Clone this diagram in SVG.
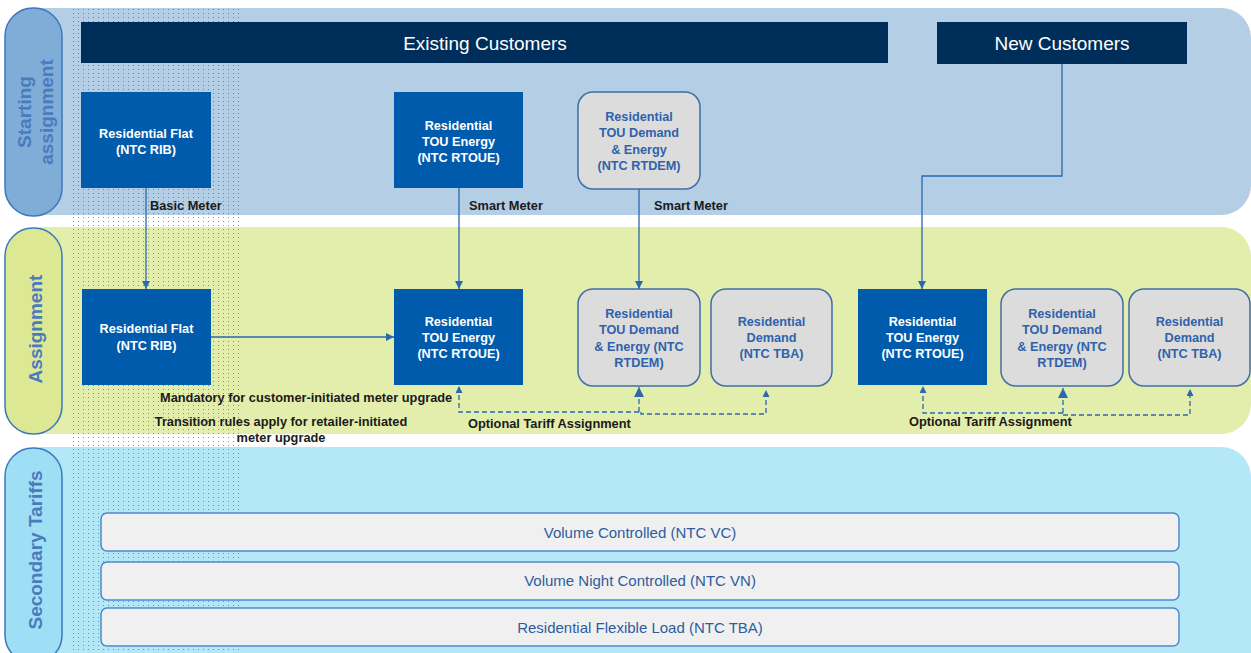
<svg xmlns="http://www.w3.org/2000/svg" width="1251" height="653" viewBox="0 0 1251 653">
<defs>
<pattern id="dots" x="71" y="8" width="5" height="4" patternUnits="userSpaceOnUse">
<rect x="2" y="1" width="1" height="1" fill="#3d5f88" opacity="0.65"/>
</pattern>
<marker id="arr" markerWidth="8" markerHeight="8" refX="8" refY="4" orient="auto" markerUnits="userSpaceOnUse">
<path d="M0,0 L8,4 L0,8 Z" fill="#2a68b0"/>
</marker>
<marker id="arrS" markerWidth="7" markerHeight="8" refX="6" refY="3.5" orient="auto" markerUnits="userSpaceOnUse">
<path d="M0,0 L7,3.5 L0,7 Z" fill="#2a68b0"/>
</marker>
<marker id="arrL" markerWidth="10" markerHeight="10" refX="10" refY="5" orient="auto" markerUnits="userSpaceOnUse">
<path d="M0,0 L10,5 L0,10 Z" fill="#2a68b0"/>
</marker>
</defs>
<style>
.pill{stroke:#3a78bd;stroke-width:1.5}
.pilltxt{font-family:"Liberation Sans",Arial,sans-serif;font-weight:bold;font-size:19px;fill:#4a7bbd;text-anchor:middle}
.hdr{fill:#002e5a}
.hdrtxt{font-family:"Liberation Sans",Arial,sans-serif;font-size:19px;fill:#ffffff;text-anchor:middle}
.blue{fill:#005bac}
.bluetxt{font-family:"Liberation Sans",Arial,sans-serif;font-weight:bold;font-size:12.7px;fill:#ffffff;text-anchor:middle}
.gray{fill:#dcdcdc;stroke:#3f6ea8;stroke-width:1.5}
.graytxt{font-family:"Liberation Sans",Arial,sans-serif;font-weight:bold;font-size:12.7px;fill:#2f62ab;text-anchor:middle}
.bar{fill:#f0f0f0;stroke:#4b8ad0;stroke-width:1.5}
.bartxt{font-family:"Liberation Sans",Arial,sans-serif;font-size:15px;fill:#2d5da0;text-anchor:middle}
.lbl{font-family:"Liberation Sans",Arial,sans-serif;font-weight:bold;font-size:12.8px;fill:#1a1a1a}
.conn{fill:none;stroke:#2a68b0;stroke-width:1.3}
.dash{fill:none;stroke:#2a68b0;stroke-width:1.3;stroke-dasharray:5,3}
</style>

<!-- lanes -->
<g id="lanes">
<path d="M40,8 H1221 A30,30 0 0 1 1251,38 V185 A30,30 0 0 1 1221,215 H40 Z" fill="#b3cee5"/>
<path d="M40,227 H1221 A30,30 0 0 1 1251,257 V404 A30,30 0 0 1 1221,434 H40 Z" fill="#e4eeac"/>
<path d="M40,447 H1221 A30,30 0 0 1 1251,477 V660 H40 Z" fill="#b5e8f6"/>
</g>
<rect id="dotted-area" x="71" y="8" width="168" height="645" fill="url(#dots)"/>

<g id="pill-starting">
<rect class="pill" x="5" y="8" width="57" height="208" rx="28" fill="#80acd8"/>
<text class="pilltxt" transform="translate(31,112) rotate(-90)">Starting</text>
<text class="pilltxt" transform="translate(53,112) rotate(-90)">assignment</text>
</g>
<g id="pill-assignment">
<rect class="pill" x="5" y="228" width="57" height="206" rx="28" fill="#dde895"/>
<text class="pilltxt" transform="translate(42,329) rotate(-90)">Assignment</text>
</g>
<g id="pill-secondary">
<rect class="pill" x="5" y="448" width="57" height="215" rx="28" fill="#9edff5"/>
<text class="pilltxt" transform="translate(42,550) rotate(-90)">Secondary Tariffs</text>
</g>

<g id="hdr-existing">
<rect class="hdr" x="81" y="22" width="807" height="41"/>
<text class="hdrtxt" x="485" y="49.5">Existing Customers</text>
</g>
<g id="hdr-new">
<rect class="hdr" x="937" y="22" width="250" height="42"/>
<text class="hdrtxt" x="1062" y="49.5">New Customers</text>
</g>

<g id="start-rib">
<rect class="blue" x="81" y="92" width="130" height="96"/>
<text class="bluetxt" x="146" y="137.5">Residential Flat</text>
<text class="bluetxt" x="146" y="154">(NTC RIB)</text>
</g>
<g id="start-rtoue">
<rect class="blue" x="394" y="92" width="129" height="96"/>
<text class="bluetxt" x="458.5" y="130">Residential</text>
<text class="bluetxt" x="458.5" y="146">TOU Energy</text>
<text class="bluetxt" x="458.5" y="162">(NTC RTOUE)</text>
</g>
<g id="start-rtdem">
<rect class="gray" x="578" y="92" width="122" height="97" rx="15"/>
<text class="graytxt" x="639" y="120.5">Residential</text>
<text class="graytxt" x="639" y="137">TOU Demand</text>
<text class="graytxt" x="639" y="153.5">&amp; Energy</text>
<text class="graytxt" x="639" y="170">(NTC RTDEM)</text>
</g>

<g id="asg-rib">
<rect class="blue" x="82" y="289" width="129" height="96"/>
<text class="bluetxt" x="146.5" y="333">Residential Flat</text>
<text class="bluetxt" x="146.5" y="350">(NTC RIB)</text>
</g>
<g id="asg-rtoue">
<rect class="blue" x="394" y="289" width="129" height="96"/>
<text class="bluetxt" x="458.5" y="326">Residential</text>
<text class="bluetxt" x="458.5" y="342">TOU Energy</text>
<text class="bluetxt" x="458.5" y="358">(NTC RTOUE)</text>
</g>
<g id="asg-rtdem">
<rect class="gray" x="578" y="289" width="122" height="97" rx="15"/>
<text class="graytxt" x="639" y="317.5">Residential</text>
<text class="graytxt" x="639" y="334">TOU Demand</text>
<text class="graytxt" x="639" y="350.5">&amp; Energy (NTC</text>
<text class="graytxt" x="639" y="367">RTDEM)</text>
</g>
<g id="asg-demand">
<rect class="gray" x="711" y="289" width="121" height="97" rx="15"/>
<text class="graytxt" x="771.5" y="326">Residential</text>
<text class="graytxt" x="771.5" y="342">Demand</text>
<text class="graytxt" x="771.5" y="358">(NTC TBA)</text>
</g>
<g id="new-rtoue">
<rect class="blue" x="858" y="289" width="129" height="96"/>
<text class="bluetxt" x="922.5" y="326">Residential</text>
<text class="bluetxt" x="922.5" y="342">TOU Energy</text>
<text class="bluetxt" x="922.5" y="358">(NTC RTOUE)</text>
</g>
<g id="new-rtdem">
<rect class="gray" x="1001" y="289" width="122" height="97" rx="15"/>
<text class="graytxt" x="1062" y="317.5">Residential</text>
<text class="graytxt" x="1062" y="334">TOU Demand</text>
<text class="graytxt" x="1062" y="350.5">&amp; Energy (NTC</text>
<text class="graytxt" x="1062" y="367">RTDEM)</text>
</g>
<g id="new-demand">
<rect class="gray" x="1129" y="289" width="121" height="97" rx="15"/>
<text class="graytxt" x="1189.5" y="326">Residential</text>
<text class="graytxt" x="1189.5" y="342">Demand</text>
<text class="graytxt" x="1189.5" y="358">(NTC TBA)</text>
</g>

<g id="sec-vc">
<rect class="bar" x="101" y="513" width="1078" height="38" rx="6"/>
<text class="bartxt" x="640" y="537.5">Volume Controlled (NTC VC)</text>
</g>
<g id="sec-vn">
<rect class="bar" x="101" y="562" width="1078" height="38" rx="6"/>
<text class="bartxt" x="640" y="586">Volume Night Controlled (NTC VN)</text>
</g>
<g id="sec-flex">
<rect class="bar" x="101" y="608" width="1078" height="38" rx="6"/>
<text class="bartxt" x="640" y="632.5">Residential Flexible Load (NTC TBA)</text>
</g>

<g id="connectors">
<line class="conn" x1="146" y1="188" x2="146" y2="289" marker-end="url(#arr)"/>
<line class="conn" x1="459" y1="188" x2="459" y2="289" marker-end="url(#arr)"/>
<line class="conn" x1="639" y1="189" x2="639" y2="289" marker-end="url(#arr)"/>
<path class="conn" d="M1062,64 V176 H922 V289" marker-end="url(#arr)"/>
<line class="conn" x1="211" y1="337" x2="394" y2="337" marker-end="url(#arr)"/>

<path class="dash" d="M639,412 H459 V387" marker-end="url(#arrS)"/>
<line class="dash" x1="639" y1="412" x2="639" y2="387" marker-end="url(#arrL)"/>
<path class="dash" d="M641,412 V414 H766 V391" marker-end="url(#arrS)"/>

<path class="dash" d="M1063,413 H923 V387" marker-end="url(#arrS)"/>
<line class="dash" x1="1063" y1="413" x2="1063" y2="388" marker-end="url(#arrL)"/>
<path class="dash" d="M1063,415 H1190 V390" marker-end="url(#arrS)"/>

<text class="lbl" x="150" y="210">Basic Meter</text>
<text class="lbl" x="469" y="210">Smart Meter</text>
<text class="lbl" x="654" y="210">Smart Meter</text>
<text class="lbl" x="160" y="401.5">Mandatory for customer-initiated meter upgrade</text>
<text class="lbl" x="281" y="426" text-anchor="middle">Transition rules apply for retailer-initiated</text>
<text class="lbl" x="281" y="441.5" text-anchor="middle">meter upgrade</text>
<text class="lbl" x="468" y="428">Optional Tariff Assignment</text>
<text class="lbl" x="909" y="426">Optional Tariff Assignment</text>
</g>
</svg>
